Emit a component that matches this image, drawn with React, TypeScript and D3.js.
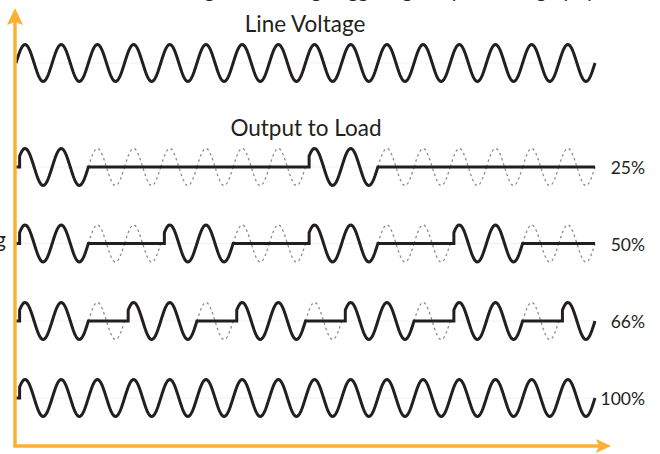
import React from "react";
import * as d3 from "d3";

// ---- data ----
const cycleCount = 16;
const rowLabels = ["25%", "50%", "66%", "100%"];
const pattern25 = [1, 1, 0, 0, 0, 0, 0, 0, 1, 1, 0, 0, 0, 0, 0, 0];
const pattern50 = [1, 1, 0, 0, 1, 1, 0, 0, 1, 1, 0, 0, 1, 1, 0, 0];
const pattern66 = [1, 1, 0, 1, 1, 0, 1, 1, 0, 1, 1, 0, 1, 1, 0, 1];
const pattern100 = [1, 1, 1, 1, 1, 1, 1, 1, 1, 1, 1, 1, 1, 1, 1, 1];
const patterns = [pattern25, pattern50, pattern66, pattern100];
const titleText = "Zero Crossing Burst Firing Triggering Output Wavegraphy";
const yAxisText = "Burst Firing";
const lineVoltageText = "Line Voltage";
const outputText = "Output to Load";

const W = 660;
const H = 454;
const ORANGE = "#FBB034";
const INK = "#231F20";
const FONT = "Lato, 'Open Sans', sans-serif";

const x = d3.scaleLinear().domain([0, cycleCount]).range([16, 595]);
const rowCenters = [167, 243.5, 321, 398];
const lvCenter = 63;
const AMP = 18.5;
const FIRE = 0.1; // firing delay in cycles
const SAMPLES = 48;

const yFor = (c: number) => d3.scaleLinear().domain([-1, 1]).range([c + AMP, c - AMP]);

function sinePts(a: number, b: number): [number, number][] {
  const n = Math.max(2, Math.round((b - a) * SAMPLES));
  return d3.range(n + 1).map((i) => {
    const t = a + ((b - a) * i) / n;
    return [t, Math.sin(2 * Math.PI * t)] as [number, number];
  });
}

function outputPts(p: number[]): [number, number][] {
  const pts: [number, number][] = [];
  p.forEach((on, i) => {
    const prevOn = i > 0 ? p[i - 1] : 0;
    if (on) {
      if (!prevOn) {
        pts.push([i, 0]);
        pts.push([i + FIRE, 0]);
        pts.push(...sinePts(i + FIRE, i + 1));
      } else {
        pts.push(...sinePts(i, i + 1));
      }
    } else {
      pts.push([i, 0]);
      pts.push([i + 1, 0]);
    }
  });
  return pts;
}

function offSegments(p: number[]): [number, number][] {
  const segs: [number, number][] = [];
  p.forEach((on, i) => {
    if (!on) segs.push([i, i + 1]);
  });
  return segs;
}

export default function App() {
  const mkLine = (c: number) => {
    const y = yFor(c);
    return d3
      .line<[number, number]>()
      .x((d) => x(d[0]))
      .y((d) => y(d[1]));
  };

  const arrowTop = `M15,8 L23,25 L15,22 L7,25 Z`;
  const arrowRight = `M611,446 L596,439 L599,446 L596,453 Z`;

  return (
    <svg
      width={W}
      height={H}
      style={{ position: "absolute", left: 0, top: 0, background: "#fff" }}
      fontFamily={FONT}
    >
      <rect width={W} height={H} fill="#fff" />
      {/* cut-off title */}
      <text x={345} y={-2} textAnchor="middle" fontSize={20} fill={INK}>
        {titleText}
      </text>
      <text x={6} y={247} textAnchor="end" fontSize={21} fill={INK}>
        {yAxisText}
      </text>

      {/* very faint center lines */}
      {[lvCenter, ...rowCenters].map((c, i) => (
        <line key={"c" + i} x1={x(0)} x2={x(cycleCount)} y1={c} y2={c} stroke="#f1f1f1" strokeWidth={1} />
      ))}

      {/* line voltage */}
      <text x={305} y={32} textAnchor="middle" fontSize={22.5} fill={INK}>
        {lineVoltageText}
      </text>
      <path
        d={mkLine(lvCenter)(sinePts(0, cycleCount)) || ""}
        fill="none"
        stroke={INK}
        strokeWidth={3}
      />

      <text x={306} y={136} textAnchor="middle" fontSize={22.5} fill={INK}>
        {outputText}
      </text>

      {patterns.map((p, r) => {
        const c = rowCenters[r];
        const ln = mkLine(c);
        return (
          <g key={r}>
            {offSegments(p).map(([a, b], k) => (
              <path
                key={k}
                d={ln(sinePts(a, b)) || ""}
                fill="none"
                stroke="#8a8a8a"
                strokeWidth={1.3}
                strokeDasharray="2.5 3"
              />
            ))}
            <path
              d={ln(outputPts(p)) || ""}
              fill="none"
              stroke={INK}
              strokeWidth={3}
              strokeLinejoin="miter"
            />
            <text x={645} y={c + 7} textAnchor="end" fontSize={17.5} fill={INK}>
              {rowLabels[r]}
            </text>
          </g>
        );
      })}

      {/* axes */}
      <line x1={15} x2={15} y1={20} y2={446} stroke={ORANGE} strokeWidth={3.5} />
      <line x1={13.25} x2={600} y1={446} y2={446} stroke={ORANGE} strokeWidth={3.5} />
      <path d={arrowTop} fill={ORANGE} />
      <path d={arrowRight} fill={ORANGE} />
    </svg>
  );
}
